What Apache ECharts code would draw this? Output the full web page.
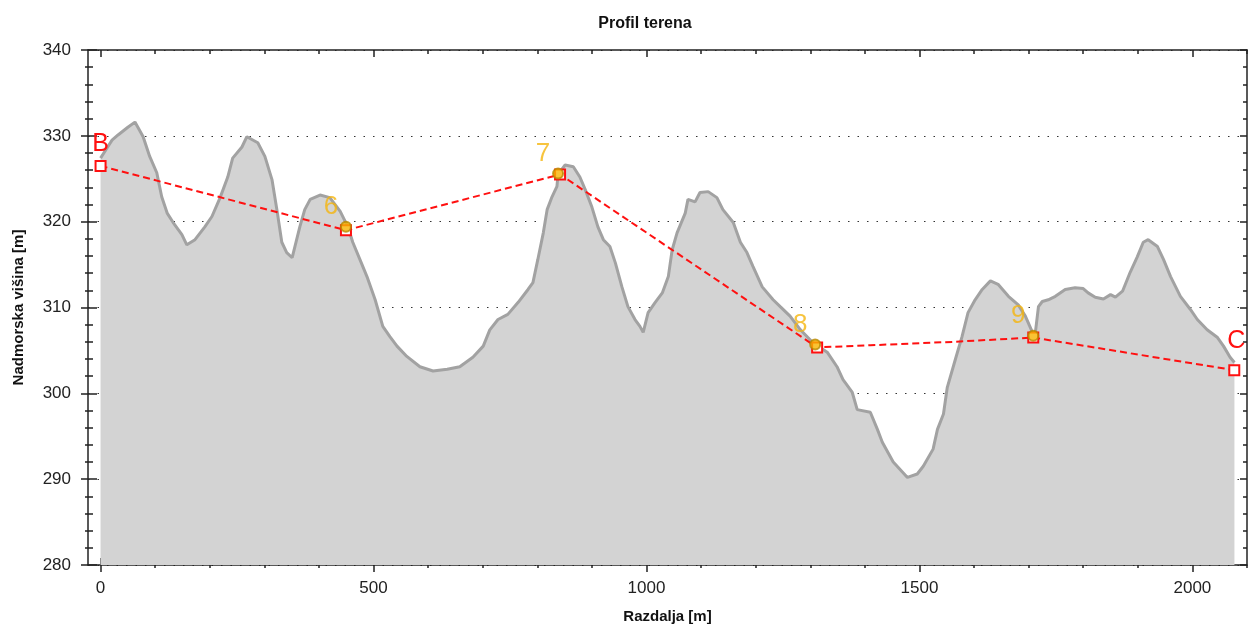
<!DOCTYPE html>
<html>
<head>
<meta charset="utf-8">
<script src="https://cdn.jsdelivr.net/npm/echarts@6/dist/echarts.min.js"></script>
<style>
  html, body { margin: 0; padding: 0; background: #fff; }
  #chart { width: 1256px; height: 629px; }
</style>
</head>
<body>
<div id="chart"></div>
<script>
// terrain profile: distance [m] / elevation [m]
const terrainX = [0, 13, 21, 32, 50, 63, 78, 90, 103, 112, 122, 133, 149, 158, 173, 191, 204, 219, 233, 242,
  259, 268, 288, 301, 314, 323, 332, 341, 351, 356, 365, 374, 384, 402, 420, 439, 453, 462, 475, 488,
  503, 517, 530, 543, 561, 585, 609, 635, 658, 682, 701, 713, 728, 746, 765, 783, 792, 801, 811, 818,
  827, 836, 838, 851, 866, 878, 888, 900, 911, 921, 933, 943, 955, 966, 979, 988, 994, 1003, 1016, 1029,
  1040, 1047, 1056, 1071, 1076, 1089, 1098, 1113, 1129, 1140, 1159, 1172, 1184, 1195, 1212, 1232, 1245, 1263, 1282, 1305,
  1331, 1349, 1360, 1377, 1386, 1410, 1423, 1432, 1452, 1478, 1496, 1507, 1525, 1533, 1544, 1551, 1566, 1578, 1589, 1602,
  1615, 1630, 1644, 1663, 1681, 1694, 1707, 1712, 1718, 1725, 1736, 1749, 1767, 1785, 1800, 1809, 1822, 1837, 1850, 1859,
  1872, 1886, 1899, 1910, 1919, 1936, 1947, 1960, 1978, 1996, 2009, 2027, 2046, 2057, 2069, 2077];
const terrainY = [327.4, 328.7, 329.5, 330.1, 331.0, 331.6, 329.9, 327.6, 325.7, 322.9, 321.0, 319.9, 318.5, 317.3, 317.9, 319.4, 320.6, 322.8, 325.2, 327.4,
  328.7, 329.9, 329.2, 327.6, 324.9, 321.4, 317.6, 316.4, 315.8, 317.1, 319.4, 321.4, 322.6, 323.1, 322.8, 321.2, 319.4, 317.6, 315.6, 313.6,
  310.9, 307.8, 306.6, 305.5, 304.3, 303.1, 302.6, 302.8, 303.1, 304.2, 305.5, 307.4, 308.6, 309.2, 310.6, 312.1, 312.9, 315.6, 318.7, 321.4,
  322.9, 324.1, 325.5, 326.6, 326.4, 325.2, 323.7, 321.7, 319.4, 317.9, 317.1, 315.2, 312.4, 310.1, 308.6, 307.8, 307.1, 309.4, 310.6, 311.7,
  313.6, 316.7, 318.7, 321.0, 322.6, 322.3, 323.4, 323.5, 322.8, 321.4, 319.9, 317.6, 316.4, 314.8, 312.4, 310.9, 310.1, 309.0, 307.4, 305.9,
  304.8, 303.1, 301.6, 300.1, 298.1, 297.8, 295.8, 294.3, 292.0, 290.2, 290.6, 291.5, 293.5, 295.8, 297.6, 300.7, 304.0, 306.6, 309.4, 310.9,
  312.1, 313.1, 312.7, 311.3, 310.3, 309.0, 307.1, 306.9, 310.1, 310.7, 310.9, 311.3, 312.1, 312.3, 312.2, 311.7, 311.2, 311.0, 311.5, 311.2,
  311.9, 314.1, 315.9, 317.6, 317.9, 317.1, 315.6, 313.6, 311.3, 309.8, 308.6, 307.4, 306.5, 305.5, 304.2, 303.6];

// route B - 6 - 7 - 8 - 9 - C
const routeX = [0, 449.5, 841.7, 1312.6, 1410, 1562, 1708.5, 2076.7];
const routeY = [326.5, 319.0, 325.5, 305.35, 305.6, 306.0, 306.5, 302.7];
const routeNames = ['B', '', '', '', '', '', '', 'C'];
const routeMarked = [true, true, true, true, false, false, true, true];

// waypoints
const pointNames = ['6', '7', '8', '9'];
const pointX = [449.5, 838.0, 1309.0, 1708.5];
const pointY = [319.4, 325.6, 305.7, 306.7];

const xTicks = [0, 500, 1000, 1500, 2000];
const xMinorTicks = [0, 100, 200, 300, 400, 500, 600, 700, 800, 900, 1000, 1100, 1200, 1300, 1400,
  1500, 1600, 1700, 1800, 1900, 2000, 2100];

const FONT = '"Liberation Sans", Arial, sans-serif';
const X_MIN = -23, X_MAX = 2100;
const nameLabelOffset = { B: [0, -22], C: [2, -29] };

const chart = echarts.init(document.getElementById('chart'));

const tickStyle = { color: '#222', width: 1.5 };
const frameLine = { show: true, onZero: false, lineStyle: { color: '#222', width: 1.5 } };
const noLine = { show: false, onZero: false };

function xAx(position, opts) {
  return Object.assign({
    type: 'value', position: position, min: X_MIN, max: X_MAX,
    axisLine: noLine, splitLine: { show: false },
    axisLabel: { show: false }
  }, opts);
}
function yAx(position, opts) {
  return Object.assign({
    type: 'value', position: position, min: 280, max: 340, interval: 10,
    axisLine: noLine, splitLine: { show: false },
    axisLabel: { show: false }
  }, opts);
}

chart.setOption({
  animation: false,
  backgroundColor: '#fff',
  title: {
    text: 'Profil terena',
    left: 640, top: 11, textAlign: 'center',
    textStyle: { fontFamily: FONT, fontSize: 16, fontWeight: 'bold', color: '#111' }
  },
  grid: { left: 88, right: 9, top: 50, bottom: 63 },
  xAxis: [
    xAx('bottom', {
      axisLine: frameLine,
      name: 'Razdalja [m]', nameLocation: 'middle', nameGap: 44,
      nameTextStyle: { fontFamily: FONT, fontSize: 15, fontWeight: 'bold', color: '#111' },
      axisTick: { show: true, inside: false, length: 7, customValues: xTicks, lineStyle: tickStyle },
      axisLabel: {
        show: true, customValues: xTicks, margin: 15, formatter: v => String(v),
        fontFamily: FONT, fontSize: 17, color: '#222'
      }
    }),
    xAx('bottom', {
      axisTick: { show: true, inside: true, length: 7, customValues: xTicks, lineStyle: tickStyle }
    }),
    xAx('bottom', {
      axisTick: { show: true, inside: false, length: 3, customValues: xMinorTicks, lineStyle: tickStyle }
    }),
    xAx('top', {
      axisLine: frameLine,
      axisTick: { show: true, inside: true, length: 7, customValues: xTicks, lineStyle: tickStyle }
    }),
    xAx('top', {
      axisTick: { show: true, inside: true, length: 4, customValues: xMinorTicks, lineStyle: tickStyle }
    })
  ],
  yAxis: [
    yAx('left', {
      axisLine: frameLine,
      name: 'Nadmorska višina [m]', nameLocation: 'middle', nameGap: 62,
      nameTextStyle: { fontFamily: FONT, fontSize: 15, fontWeight: 'bold', color: '#111' },
      axisTick: { show: true, inside: false, length: 7, lineStyle: tickStyle },
      minorTick: { show: true, splitNumber: 5, length: 3, lineStyle: tickStyle },
      axisLabel: { show: true, margin: 17, fontFamily: FONT, fontSize: 17, color: '#222' },
      splitLine: { show: true, lineStyle: { color: '#333', width: 1, type: [1.5, 8] } }
    }),
    yAx('left', {
      axisTick: { show: true, inside: true, length: 9, lineStyle: tickStyle },
      minorTick: { show: true, splitNumber: 5, length: 5, lineStyle: tickStyle }
    }),
    yAx('right', {
      axisLine: frameLine,
      axisTick: { show: true, inside: true, length: 7, lineStyle: tickStyle },
      minorTick: { show: true, splitNumber: 5, length: 4, lineStyle: tickStyle }
    })
  ],
  series: [
    {
      name: 'teren',
      type: 'line',
      xAxisIndex: 0, yAxisIndex: 0,
      symbol: 'none',
      data: terrainX.map((x, i) => [x, terrainY[i]]),
      lineStyle: { color: '#a2a2a2', width: 3 },
      areaStyle: { color: '#d3d3d3', opacity: 1 },
      z: 2
    },
    {
      name: 'pot',
      type: 'line',
      xAxisIndex: 0, yAxisIndex: 0,
      symbol: 'rect',
      symbolSize: 10,
      data: routeX.map((x, i) => {
        const item = { value: [x, routeY[i]] };
        if (!routeMarked[i]) item.symbol = 'none';
        if (routeNames[i]) {
          item.label = { show: true, formatter: routeNames[i], offset: nameLabelOffset[routeNames[i]] };
        }
        return item;
      }),
      lineStyle: { color: '#ff1010', width: 2, type: [7, 4] },
      itemStyle: { color: '#fff', borderColor: '#ff1010', borderWidth: 2 },
      label: {
        show: false, position: 'inside',
        fontFamily: FONT, fontSize: 25, color: '#ff1010'
      },
      z: 3
    },
    {
      name: 'točke',
      type: 'scatter',
      xAxisIndex: 0, yAxisIndex: 0,
      symbol: 'circle',
      symbolSize: 10,
      data: pointX.map((x, i) => ({ value: [x, pointY[i]], name: pointNames[i] })),
      itemStyle: { color: '#f7b400', borderColor: '#b88800', borderWidth: 2 },
      label: {
        show: true, position: 'inside', offset: [-15, -20],
        formatter: p => p.name,
        fontFamily: FONT, fontSize: 26, color: '#f5b50e'
      },
      z: 4
    }
  ]
});
</script>
</body>
</html>
